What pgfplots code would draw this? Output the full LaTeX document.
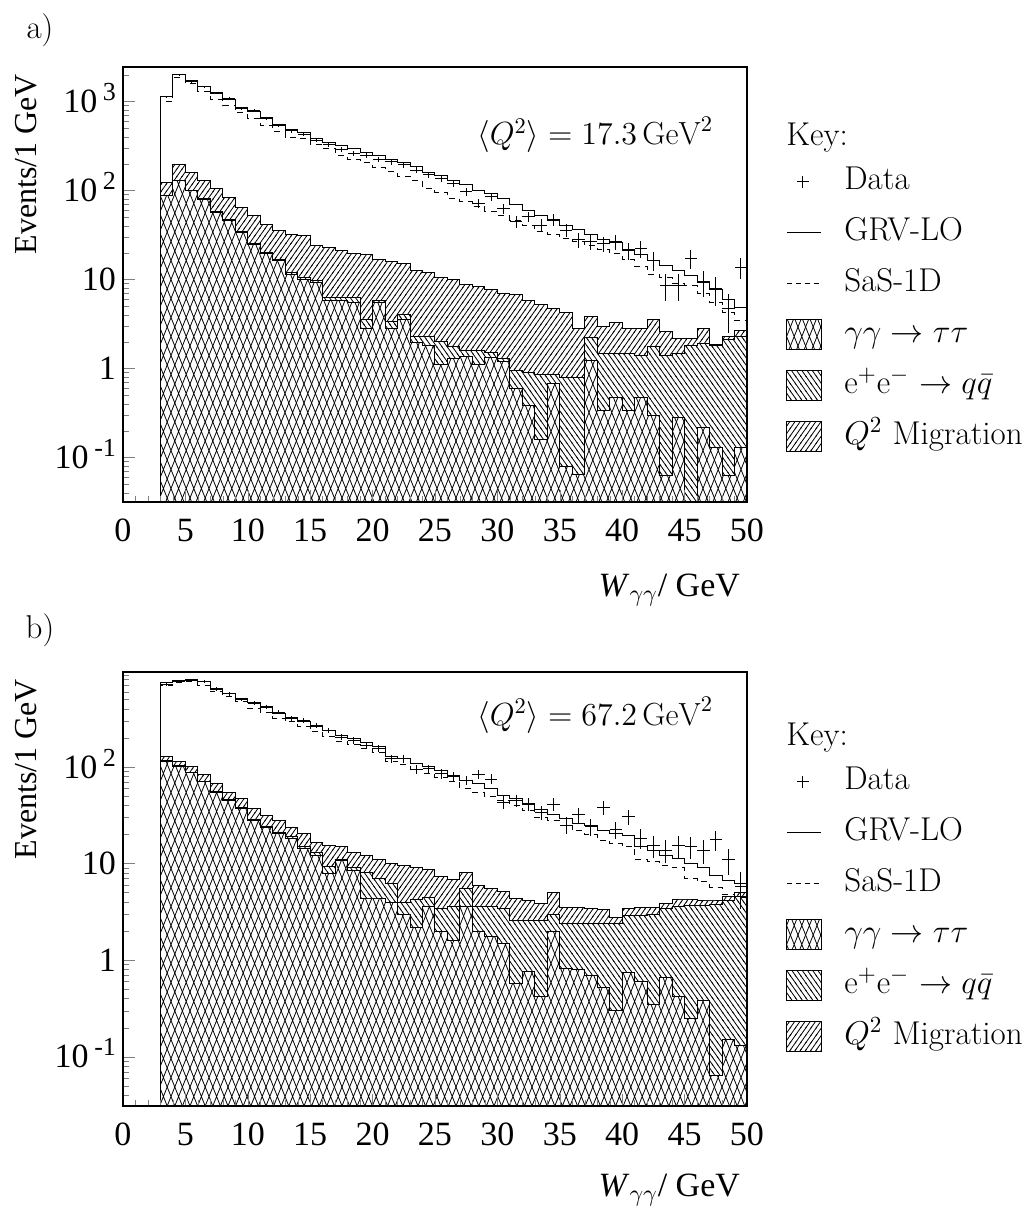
\RequirePackage{fix-cm}
\documentclass[border=0pt]{standalone}
\usepackage{fontspec}
\usepackage{pgfplots}
\usepackage{pgfplotstable}
\pgfplotsset{compat=1.18}
\usetikzlibrary{patterns}
\newfontfamily\tf{Liberation Serif}

\pgfdeclarepatternformonly{diamondhatch}{\pgfpoint{-0.5pt}{-0.5pt}}{\pgfpoint{4.3pt}{10pt}}{\pgfpoint{3.8pt}{9.5pt}}{%
  \pgfsetlinewidth{0.4pt}%
  \pgfpathmoveto{\pgfpoint{0pt}{0pt}}\pgfpathlineto{\pgfpoint{3.8pt}{9.5pt}}%
  \pgfpathmoveto{\pgfpoint{0pt}{9.5pt}}\pgfpathlineto{\pgfpoint{3.8pt}{0pt}}%
  \pgfusepath{stroke}}
\pgfdeclarepatternformonly{nehatch}{\pgfpoint{-0.5pt}{-0.5pt}}{\pgfpoint{3.1pt}{4.2pt}}{\pgfpoint{2.6pt}{3.7pt}}{%
  \pgfsetlinewidth{0.4pt}%
  \pgfpathmoveto{\pgfpoint{-0.26pt}{-0.37pt}}\pgfpathlineto{\pgfpoint{2.86pt}{4.07pt}}%
  \pgfusepath{stroke}}
\pgfdeclarepatternformonly{nwhatch}{\pgfpoint{-0.5pt}{-0.5pt}}{\pgfpoint{3.1pt}{4.2pt}}{\pgfpoint{2.6pt}{3.7pt}}{%
  \pgfsetlinewidth{0.4pt}%
  \pgfpathmoveto{\pgfpoint{-0.26pt}{4.07pt}}\pgfpathlineto{\pgfpoint{2.86pt}{-0.37pt}}%
  \pgfusepath{stroke}}

% x = bin low edge; tt = gamma gamma -> tau tau; ttqq = tt + (e+e- -> q qbar); tot = ttqq + Q^2 migration
\pgfplotstableread{
x tt ttqq tot grv sas
3 0.001 0.001 0.001 0.001 0.001
3 88 89 124 1140 1000
4 129 130 195 2030 1880
5 100 101 160 1710 1600
6 80 81 129 1480 1300
7 57 58 106 1220 1060
8 46 47 84 1070 900
9 34 34.7 65 850 745
10 25 25.6 52 775 640
11 19.4 20 42 665 540
12 16.3 16.8 35.4 550 460
13 11.5 12 32.5 480 400
14 10.1 10.5 31 445 385
15 9.3 9.8 24.4 390 330
16 5.8 6.3 23 343 295
17 5.8 6.3 21 320 250
18 5.5 6.3 19.5 295 225
19 2.8 3.6 19 270 205
20 5.5 5.8 17 245 180
21 2.8 3.4 16 226 165
22 3.6 4.1 15 205 145
23 1.96 2.3 12.5 185 130
24 1.8 2.3 12 160 105
25 1.1 2.0 10.5 147 95
26 1.3 1.75 10 130 82
27 1.35 1.6 8.8 118 75
28 1.12 1.6 8.3 100 66
29 1.33 1.5 7.8 92 58
30 1.2 1.3 7 82 52
31 0.6 0.95 6.8 70 46
32 0.38 0.9 5.8 60 41
33 0.16 0.85 5.2 52 35
34 0.67 0.85 4.7 46 32
35 0.08 0.8 4.3 41 29
36 0.065 0.8 2.8 37 27
37 1.23 2.26 3.8 32 24
38 0.34 1.47 3.0 28 22
39 0.47 1.47 3.3 26 19.5
40 0.34 1.47 2.8 22 17
41 0.47 1.41 2.8 19 14
42 0.3 1.75 3.6 16.3 11.5
43 0.063 1.41 2.6 14.3 10.5
44 0.28 1.47 2.2 12.6 9
45 0.001 1.82 2.2 11 8.5
46 0.22 1.9 2.8 9.3 7
47 0.13 1.82 1.85 7.8 5.5
48 0.063 2.1 2.3 6.0 4.3
49 0.13 2.3 2.7 4.9 3.5
50 0.13 2.3 2.7 4.9 3.5
}\tabA

\pgfplotstableread{
x y e
3.5 1130 33.6
4.5 2000 44.7
5.5 1680 41
6.5 1470 38.3
7.5 1250 35.4
8.5 1090 33
9.5 830 28.8
10.5 790 28.1
11.5 650 25.5
12.5 540 23.2
13.5 470 21.7
14.5 430 20.7
15.5 370 19.2
16.5 330 18.2
17.5 290 17
18.5 262 16.2
19.5 250 15.8
20.5 225 15
21.5 210 14.5
22.5 195 14
23.5 170 13
24.5 150 12.2
25.5 137 11.7
26.5 120 11
27.5 97 9.8
28.5 72 8.5
29.5 85 9.2
30.5 63 7.9
31.5 45 6.7
32.5 51 7.1
33.5 41 6.4
34.5 47 6.9
35.5 36 6
36.5 28 5.3
37.5 26.5 5.1
38.5 25.4 5
39.5 26.5 5.1
40.5 21.4 4.6
41.5 22.3 4.7
42.5 16.5 4.1
43.5 8.6 2.9
44.5 8.6 2.9
45.5 17.2 4.1
46.5 9.4 3.1
47.5 7.9 2.8
48.5 4.7 2.2
49.5 13.8 3.7
}\datA

\pgfplotstableread{
x tt ttqq tot grv sas
3 0.001 0.001 0.001 0.001 0.001
3 115 116 129 740 700
4 102 103 115 780 740
5 87 88 102 800 760
6 70 71 84 760 700
7 55 56 67 650 600
8 45 46 55 580 530
9 37 37.6 47 510 470
10 28 28.6 37 460 400
11 23.9 24.4 31.6 410 370
12 20.4 20.9 27.6 355 320
13 18.2 18.9 23.9 325 295
14 14.3 14.9 20.4 295 260
15 12.2 12.9 16.4 265 230
16 7.9 9.4 15.5 240 205
17 10.8 11 15 213 185
18 8.5 9.2 13 196 170
19 4.3 8.0 12 181 155
20 4.3 7.0 11 161 140
21 4.0 6.2 10 127 115
22 3.0 4.0 9.5 122 105
23 2.2 4.2 9 108 95
24 3.6 4.5 8.6 100 85
25 2.0 3.4 7.4 92 78
26 1.6 3.6 6.8 82 70
27 3.6 5.5 8.1 73 60
28 2.0 3.6 6.0 67 55
29 1.74 3.6 5.5 60 50
30 1.49 3.4 5.2 51 45
31 0.58 2.6 4.3 47 40
32 0.77 2.6 4.1 42 35
33 0.42 2.6 3.9 36 30
34 2.0 3.0 5.0 32 28
35 0.83 2.4 3.5 29 25
36 0.8 2.4 3.5 26 22
37 0.7 2.4 3.4 25 20
38 0.52 2.4 3.35 22 17.5
39 0.3 2.4 2.75 20.4 16
40 0.75 2.9 3.4 19.6 15
41 0.6 2.9 3.5 15 11
42 0.35 3.0 3.5 13.7 10.5
43 0.66 3.4 3.9 12.2 9.5
44 0.42 3.6 4.2 11.3 9
45 0.25 3.7 4.2 10 7
46 0.38 3.7 4.1 9.2 6.5
47 0.064 3.8 4.1 7.6 5.7
48 0.15 4.1 4.6 6.7 4.8
49 0.13 4.6 5.0 6.2 4.5
50 0.13 4.6 5.0 6.2 4.5
}\tabB

\pgfplotstableread{
x y e
3.5 720 26.8
4.5 770 27.7
5.5 790 28.1
6.5 760 27.6
7.5 640 25.3
8.5 570 23.9
9.5 500 22.4
10.5 455 21.3
11.5 420 20.5
12.5 370 19.2
13.5 320 17.9
14.5 300 17.3
15.5 270 16.4
16.5 240 15.5
17.5 204 14.3
18.5 188 13.7
19.5 167 12.9
20.5 155 12.4
21.5 122 11
22.5 122 11
23.5 95 9.7
24.5 96 9.8
25.5 85 9.2
26.5 79 8.9
27.5 73 8.5
28.5 84 9.2
29.5 75 8.7
30.5 43 6.6
31.5 45 6.7
32.5 41 6.4
33.5 34 5.8
34.5 41 6.4
35.5 25 5
36.5 32 5.7
37.5 24 4.9
38.5 38 6.2
39.5 22.5 4.7
40.5 30.5 5.5
41.5 18.3 4.3
42.5 15.3 3.9
43.5 13.8 3.7
44.5 15.3 3.9
45.5 15 3.9
46.5 13.7 3.7
47.5 17.6 4.2
48.5 11 3.3
49.5 5.8 2.4
}\datB

\newcommand{\expo}[1]{\,\smash{\raisebox{6pt}{\fontsize{13}{13}\selectfont #1}}}
\newcommand{\legfont}{\fontsize{16.5}{19}\selectfont}

\pgfplotsset{
  hstep/.style={const plot, black, line width=0.5pt, forget plot},
  qsq/.style={hstep, preaction={fill=white}, pattern=nehatch},
  eeqq/.style={hstep, preaction={fill=white}, pattern=nwhatch},
  tata/.style={hstep, preaction={fill=white}, pattern=diamondhatch},
  datpts/.style={draw=none, mark=none, forget plot,
    error bars/.cd, x dir=both, x fixed=0.5, y dir=both, y explicit,
    error mark=none, error bar style={draw=black, solid, line width=0.5pt}},
}

\newcommand{\keyentries}{%
  \addlegendimage{legend image code/.code={\draw[black,line width=0.5pt] (5pt,0pt)--(11pt,0pt) (8pt,-3pt)--(8pt,3pt);}}
  \addlegendentry{Data}
  \addlegendimage{legend image code/.code={\draw[black,line width=0.5pt] (0pt,0pt)--(17pt,0pt);}}
  \addlegendentry{GRV-LO}
  \addlegendimage{legend image code/.code={\draw[black,line width=0.5pt,dash pattern=on 2.5pt off 2pt] (0pt,0pt)--(17pt,0pt);}}
  \addlegendentry{SaS-1D}
  \addlegendimage{legend image code/.code={\draw[black,line width=0.5pt,pattern=diamondhatch] (0pt,-7.5pt) rectangle (17.5pt,7.5pt);}}
  \addlegendentry{$\gamma\gamma\rightarrow\tau\tau$}
  \addlegendimage{legend image code/.code={\draw[black,line width=0.5pt,pattern=nwhatch] (0pt,-7.5pt) rectangle (17.5pt,7.5pt);}}
  \addlegendentry{e$^+$e$^-$ $\rightarrow q\bar{q}$}
  \addlegendimage{legend image code/.code={\draw[black,line width=0.5pt,pattern=nehatch] (0pt,-7.5pt) rectangle (17.5pt,7.5pt);}}
  \addlegendentry{$Q^2$ Migration}
}

\begin{document}
\begin{tikzpicture}
\useasboundingbox (-61.5pt,-359pt) rectangle (455.5pt,251pt);

% ---------------- panel a ----------------
\begin{axis}[name=pa, at={(0pt,0pt)}, anchor=south west,
  scale only axis, width=312pt, height=217.5pt,
  xmin=0, xmax=50, ymode=log, ymin=0.0316, ymax=2450,
  log origin y=infty,
  xtick={0,5,...,50}, minor x tick num=4,
  xtick pos=left, ytick pos=left, tick align=inside,
  major tick length=6pt, minor tick length=3pt,
  axis line style={line width=0.7pt},
  /pgf/number format/assume math mode=true,
  ticklabel style={font=\tf\fontsize{17}{20}\selectfont},
  xticklabel style={yshift=-5pt},
  axis on top,
  legend cell align=left,
  legend style={at={(axis description cs:1,1)}, anchor=north west,
    xshift=19.5pt, yshift=-49.5pt, draw=none, fill=none, inner sep=0pt,
    font=\legfont, row sep=10pt, column sep=11pt,
    nodes={inner sep=0pt, text height=11.5pt, text depth=4pt}},
  ytick={0.1,1,10,100,1000},
  yticklabels={{10\expo{-1}},1,10,{10\expo{2}},{10\expo{3}}},
  minor ytick={0.04,0.05,0.06,0.07,0.08,0.09,0.2,0.3,0.4,0.5,0.6,0.7,0.8,0.9,2,3,4,5,6,7,8,9,20,30,40,50,60,70,80,90,200,300,400,500,600,700,800,900,2000},
]
\addplot[qsq] table[x=x,y=tot] {\tabA} \closedcycle;
\addplot[eeqq] table[x=x,y=ttqq] {\tabA} \closedcycle;
\addplot[tata] table[x=x,y=tt] {\tabA} \closedcycle;
\addplot[hstep] table[x=x,y=grv] {\tabA};
\addplot[hstep, dash pattern=on 3pt off 2.5pt] table[x=x,y=sas] {\tabA};
\addplot[datpts] table[x=x,y=y,y error=e] {\datA};
\keyentries
\node[anchor=east, font=\fontsize{16}{19}\selectfont] at (rel axis cs:0.957,0.844) {$\langle Q^2\rangle = 17.3\,\mathrm{GeV}^2$};
\end{axis}
\node[anchor=west, inner sep=0pt, font=\legfont] at ([xshift=19.5pt,yshift=-35.5pt]pa.north east) {Key:};
\node[anchor=east, font=\tf\fontsize{17}{20}\selectfont] at ([yshift=-44pt]pa.south east) {\textit{W}$_{\gamma\gamma}$/ GeV};
\node[rotate=90, anchor=east, font=\tf\fontsize{16}{19}\selectfont] at (-48.5pt,217.5pt) {Events/1 GeV};
\node[font=\legfont] at (-41.5pt,236pt) {a)};

% ---------------- panel b ----------------
\begin{axis}[name=pb, at={(0pt,-302pt)}, anchor=south west,
  scale only axis, width=312pt, height=217pt,
  xmin=0, xmax=50, ymode=log, ymin=0.031, ymax=960,
  log origin y=infty,
  xtick={0,5,...,50}, minor x tick num=4,
  xtick pos=left, ytick pos=left, tick align=inside,
  major tick length=6pt, minor tick length=3pt,
  axis line style={line width=0.7pt},
  /pgf/number format/assume math mode=true,
  ticklabel style={font=\tf\fontsize{17}{20}\selectfont},
  xticklabel style={yshift=-5pt},
  axis on top,
  legend cell align=left,
  legend style={at={(axis description cs:1,1)}, anchor=north west,
    xshift=19.5pt, yshift=-47pt, draw=none, fill=none, inner sep=0pt,
    font=\legfont, row sep=10pt, column sep=11pt,
    nodes={inner sep=0pt, text height=11.5pt, text depth=4pt}},
  ytick={0.1,1,10,100},
  yticklabels={{10\expo{-1}},1,10,{10\expo{2}}},
  minor ytick={0.04,0.05,0.06,0.07,0.08,0.09,0.2,0.3,0.4,0.5,0.6,0.7,0.8,0.9,2,3,4,5,6,7,8,9,20,30,40,50,60,70,80,90,200,300,400,500,600,700,800,900},
]
\addplot[qsq] table[x=x,y=tot] {\tabB} \closedcycle;
\addplot[eeqq] table[x=x,y=ttqq] {\tabB} \closedcycle;
\addplot[tata] table[x=x,y=tt] {\tabB} \closedcycle;
\addplot[hstep] table[x=x,y=grv] {\tabB};
\addplot[hstep, dash pattern=on 3pt off 2.5pt] table[x=x,y=sas] {\tabB};
\addplot[datpts] table[x=x,y=y,y error=e] {\datB};
\keyentries
\node[anchor=east, font=\fontsize{16}{19}\selectfont] at (rel axis cs:0.957,0.90) {$\langle Q^2\rangle = 67.2\,\mathrm{GeV}^2$};
\end{axis}
\node[anchor=west, inner sep=0pt, font=\legfont] at ([xshift=19.5pt,yshift=-33pt]pb.north east) {Key:};
\node[anchor=east, font=\tf\fontsize{17}{20}\selectfont] at ([yshift=-42pt]pb.south east) {\textit{W}$_{\gamma\gamma}$/ GeV};
\node[rotate=90, anchor=east, font=\tf\fontsize{16}{19}\selectfont] at (-48.5pt,-85pt) {Events/1 GeV};
\node[font=\legfont] at (-41.5pt,-64pt) {b)};
\end{tikzpicture}
\end{document}
